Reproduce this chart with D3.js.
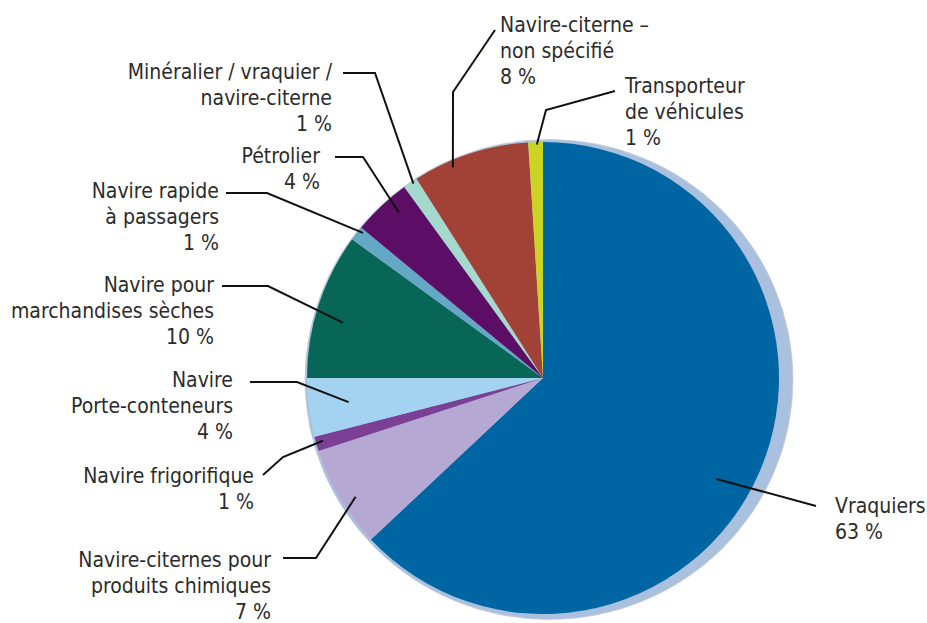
<!DOCTYPE html>
<html>
<head>
<meta charset="utf-8">
<script src="https://cdn.jsdelivr.net/npm/d3@7"></script>
<style>
  body { margin: 0; background: #fff; }
  text { font-family: "Liberation Sans Narrow", "DejaVu Sans Condensed", sans-serif; font-size: 21px; fill: #2b2b2b; }
</style>
</head>
<body>
<svg id="chart" width="927" height="623"></svg>
<script>
// data
var categories = ["Vraquiers", "Navire-citernes pour produits chimiques", "Navire frigorifique",
  "Navire Porte-conteneurs", "Navire pour marchandises sèches", "Navire rapide à passagers",
  "Pétrolier", "Minéralier / vraquier / navire-citerne", "Navire-citerne – non spécifié",
  "Transporteur de véhicules"];
var shares = [63, 7, 1, 4, 10, 1, 4, 1, 8, 1];
var labelLines = [
  ["Vraquiers", "63 %"],
  ["Navire-citernes pour", "produits chimiques", "7 %"],
  ["Navire frigorifique", "1 %"],
  ["Navire", "Porte-conteneurs", "4 %"],
  ["Navire pour", "marchandises sèches", "10 %"],
  ["Navire rapide", "à passagers", "1 %"],
  ["Pétrolier", "4 %"],
  ["Minéralier / vraquier /", "navire-citerne", "1 %"],
  ["Navire-citerne –", "non spécifié", "8 %"],
  ["Transporteur", "de véhicules", "1 %"]
];

var colors = ["#0065a3", "#b5a9d3", "#7b3f96", "#a3d3f1", "#076656",
  "#64a8c6", "#5c0e66", "#a5d9cd", "#a24236", "#ccd320"];

// layout of labels: anchor inside slice (t = fraction of slice angle, r = fraction of radius),
// leader bend points, text position and alignment
var layout = [
  {t: 0.53, r: 0.85, pts: [[816, 506]], x: 835, y: 513, anchor: "start"},
  {t: 0.43, r: 0.94, pts: [[316, 558], [283, 558]], x: 271, y: 567, anchor: "end"},
  {t: 0.58, r: 0.97, pts: [[283, 457], [263, 475]], x: 254, y: 483, anchor: "end"},
  {t: 0.51, r: 0.83, pts: [[297, 382], [250, 382]], x: 233, y: 387, anchor: "end"},
  {t: 0.43, r: 0.88, pts: [[268, 286], [222, 286]], x: 214, y: 292, anchor: "end"},
  {t: 0.80, r: 0.98, pts: [[267, 193], [226, 193]], x: 219, y: 198, anchor: "end"},
  {t: 0.65, r: 0.93, pts: [[363, 157], [335, 157]], x: 320, y: 163, anchor: "end"},
  {t: 0.64, r: 0.99, pts: [[375, 73], [343, 73]], x: 332, y: 79, anchor: "end"},
  {t: 0.32, r: 0.97, pts: [[453, 92], [495, 30]], x: 500, y: 32, anchor: "start"},
  {t: 0.58, r: 0.99, pts: [[546, 110], [615, 91]], x: 625, y: 93, anchor: "start"}
];
var lineGap = 26;

var svg = d3.select("#chart");
var cx = 543, cy = 378, radius = 236;

var data = categories.map(function(c, i){ return {name: c, value: shares[i], i: i}; });

var pie = d3.pie()
  .value(function(d){ return d.value; })
  .sort(null);
var arcs = pie(data);

var arc = d3.arc().innerRadius(0).outerRadius(radius);

// shadow / rim behind the pie
svg.append("ellipse")
  .attr("cx", cx + 6)
  .attr("cy", cy + 1.5)
  .attr("rx", radius + 8)
  .attr("ry", radius + 4)
  .style("fill", "#a9c1de")
  .style("stroke", "#c9cdd2")
  .style("stroke-width", 0.8);

var g = svg.append("g").attr("transform", "translate(" + cx + "," + cy + ")");

g.selectAll("path.slice")
  .data(arcs)
  .enter().append("path")
  .attr("class", "slice")
  .attr("d", arc)
  .style("fill", function(d){ return colors[d.data.i]; });

// leaders
function polar(a, r){ return [cx + r * Math.sin(a), cy - r * Math.cos(a)]; }

var line = d3.line();
arcs.forEach(function(d, i){
  var L = layout[i];
  var a = d.startAngle + L.t * (d.endAngle - d.startAngle);
  var start = polar(a, L.r * radius);
  svg.append("path")
    .attr("d", line([start].concat(L.pts)))
    .style("fill", "none")
    .style("stroke", "#111")
    .style("stroke-width", 2);

  var txt = svg.append("text")
    .attr("text-anchor", L.anchor);
  labelLines[i].forEach(function(s, k){
    txt.append("tspan")
      .attr("x", L.x)
      .attr("y", L.y + k * lineGap)
      .text(s);
  });
});
</script>
</body>
</html>
